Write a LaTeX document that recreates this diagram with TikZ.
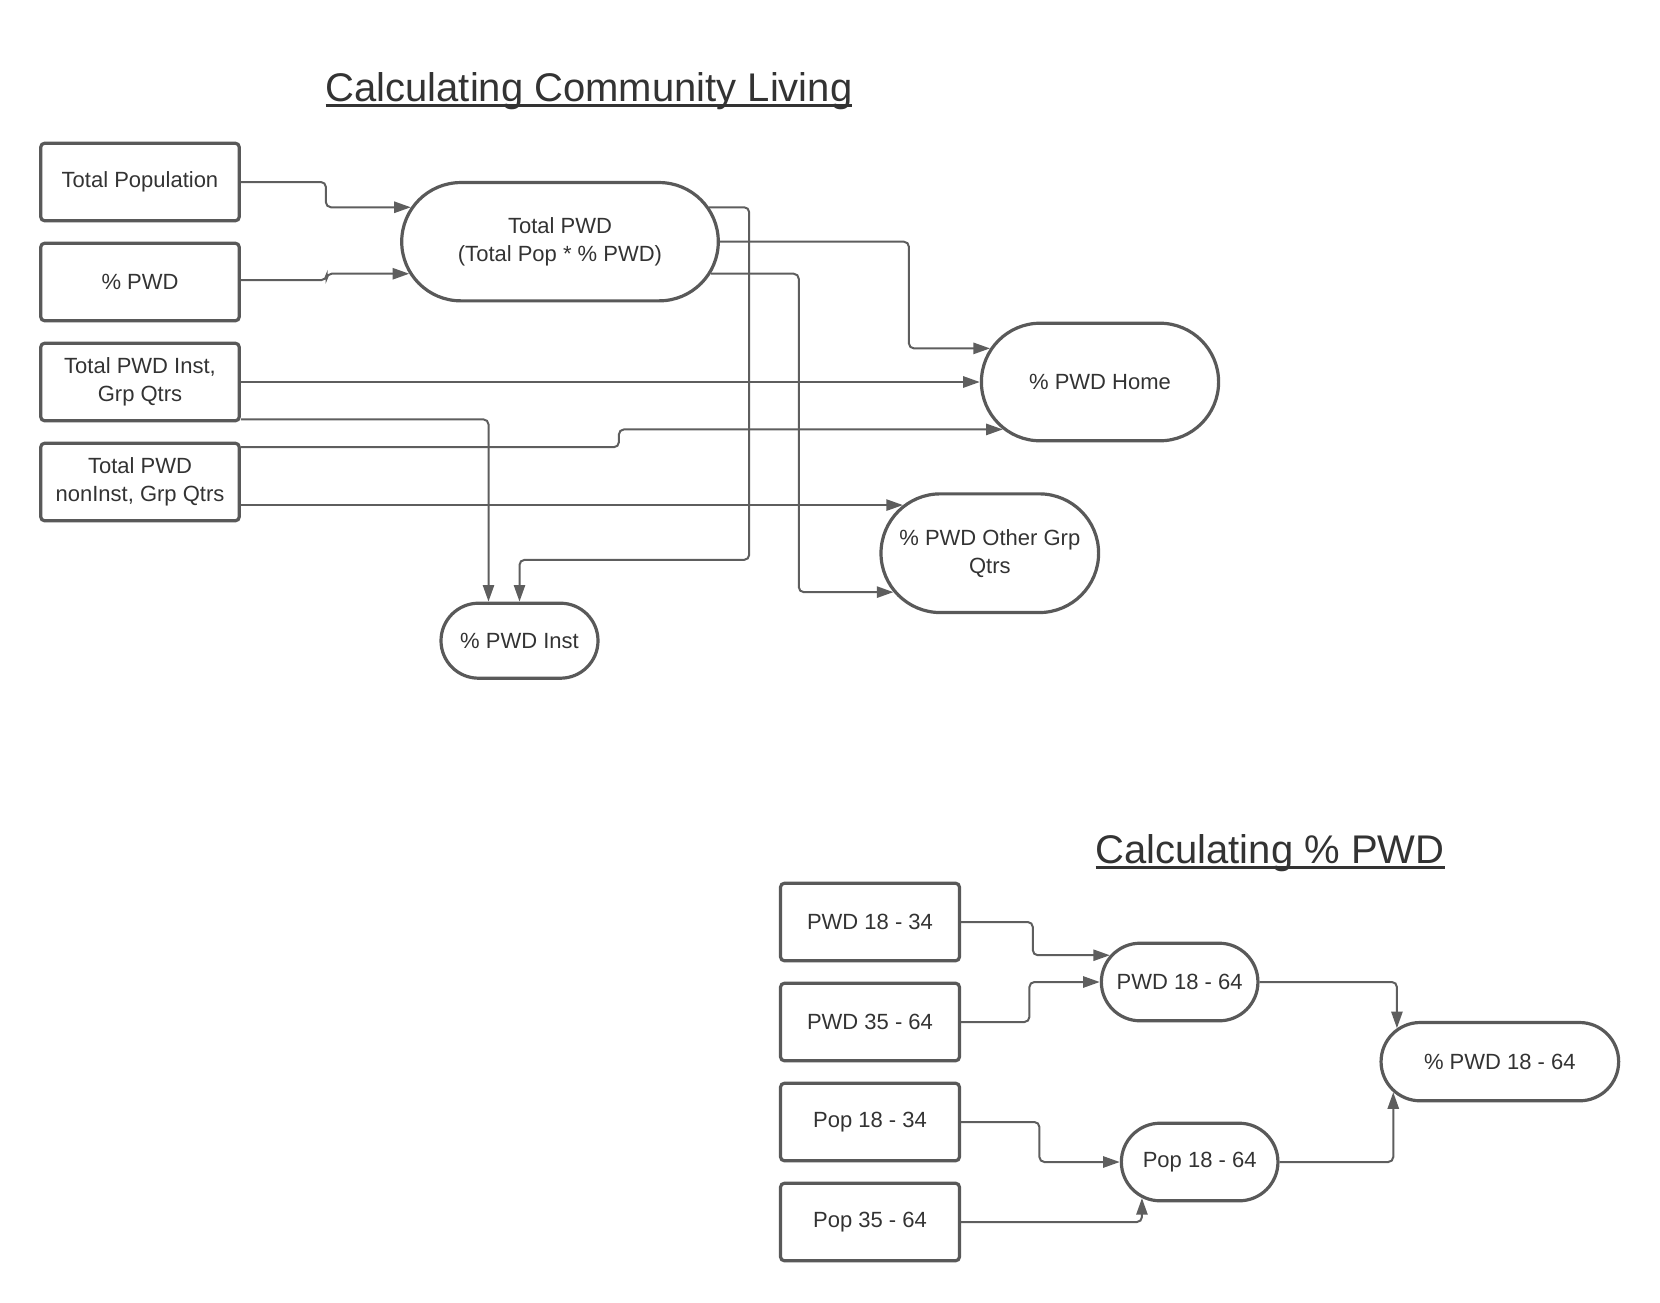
\documentclass[tikz,border=0pt]{standalone}
\usepackage{fontspec}
\setmainfont{Liberation Sans}
\usetikzlibrary{shapes.misc,arrows.meta}
\definecolor{linec}{HTML}{5E5E5E}
\definecolor{bordc}{HTML}{595959}
\definecolor{txtc}{HTML}{333333}
\newcommand\ulttl[1]{\setbox0\hbox{#1}\rlap{\rule[-2.9pt]{\wd0}{1.5pt}}\box0}
\begin{document}
\begin{tikzpicture}[x=0.5pt,y=-0.5pt,
  nodefont/.style={text=txtc,font=\fontsize{11}{14}\selectfont,align=center},
  sqbox/.style={nodefont,draw=bordc,line width=1.6pt,rounded corners=2pt,minimum width=99.3pt,minimum height=38.8pt,inner sep=1pt},
  sqboxb/.style={sqbox,minimum width=89.5pt,minimum height=38.8pt},
  pill/.style={nodefont,rounded rectangle,draw=bordc,line width=1.6pt,inner sep=1pt},
  conn/.style={draw=linec,line width=1pt,rounded corners=2.5pt,-{Triangle[length=8.3pt,width=5.6pt]}},
  ttl/.style={text=txtc,font=\fontsize{20}{24}\selectfont,anchor=base,inner sep=0pt}]
\useasboundingbox (0,0) rectangle (1660,1302);

% titles
\node[ttl] (t1) at (589,101) {\ulttl{Calculating Community Living}};
\node[ttl] (t2) at (1270,863) {\ulttl{Calculating \% PWD}};

% top part
\node[sqbox] (tpop) at (140,182) {Total Population};
\node[sqbox] (pwd) at (140,282) {\% PWD};
\node[sqbox] (inst1) at (140,382) {Total PWD Inst,\\Grp Qtrs};
\node[sqbox] (noninst) at (140,482) {Total PWD\\nonInst, Grp Qtrs};
\node[pill,minimum width=160.3pt,minimum height=59.15pt] (tpwd) at (560,241.7) {Total PWD\\(Total Pop * \% PWD)};
\node[pill,minimum width=120.6pt,minimum height=58.8pt] (home) at (1100,382) {\% PWD Home};
\node[pill,minimum width=110.8pt,minimum height=59.35pt] (other) at (989.8,553.2) {\% PWD Other Grp\\Qtrs};
\node[pill,minimum width=80.5pt,minimum height=37.5pt] (inst) at (519.5,640.7) {\% PWD Inst};

\draw[conn] (tpop.east) -- ++(85,0) |- (tpwd.167.47);
\draw[conn] ([yshift=1pt]pwd.east) -- ++(85.7,0) |- (tpwd.192.49);
\draw[conn] (tpwd.13.2) -- ++(40,0) -- ++(0,352.6) -| (inst.north);
\draw[conn] (tpwd.east) -- ++(189,0) |- (home.163.03);
\draw[conn] (tpwd.348.46) -- ++(88,0) |- (other.202.03);
\draw[conn] (inst1.east) -- (inst1.east -| home.west);
\draw[conn] ([yshift=1.5pt]inst1.south east) -| ([xshift=-15.5pt]inst.north);
\draw[conn] ([yshift=-2.8pt]noninst.north east) -- ++(378,0) |- (home.206.35);
\draw[conn] (noninst.east |- other.151.9) -- (other.151.9);

% bottom part
\node[sqboxb] (p1834) at (870,922) {PWD 18 - 34};
\node[sqboxb] (p3564) at (870,1022) {PWD 35 - 64};
\node[sqboxb] (pop1834) at (870,1122) {Pop 18 - 34};
\node[sqboxb] (pop3564) at (870,1222) {Pop 35 - 64};
\node[pill,minimum width=80.3pt,minimum height=38.8pt] (p1864) at (1179.65,982) {PWD 18 - 64};
\node[pill,minimum width=120.8pt,minimum height=39.15pt] (pp1864) at (1499.85,1061.65) {\% PWD 18 - 64};
\node[pill,minimum width=80.3pt,minimum height=38.8pt] (pop1864) at (1199.65,1162) {Pop 18 - 64};

\draw[conn] (p1834.east) -- ++(71.7,0) |- (p1864.159.55);
\draw[conn] (p3564.east) -- ++(68.3,0) |- (p1864.west);
\draw[conn] (p1864.east) -| (pp1864.162.88);
\draw[conn] (pop1834.east) -- ++(78.3,0) |- (pop1864.west);
\draw[conn] (pop3564.east) -| (pop1864.212.73);
\draw[conn] (pop1864.east) -| (pp1864.196.77);
\end{tikzpicture}
\end{document}
